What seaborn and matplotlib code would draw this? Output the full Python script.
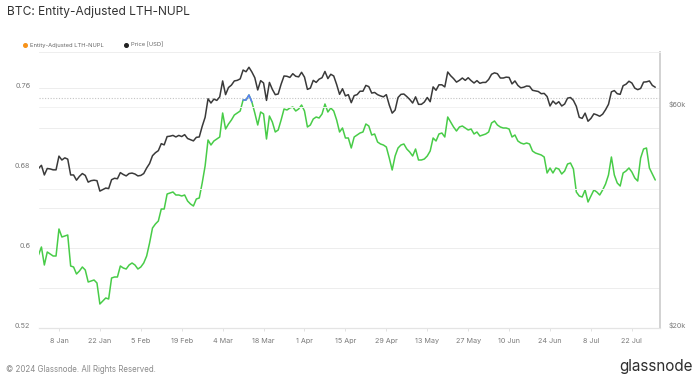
import numpy as np
import pandas as pd
import matplotlib
matplotlib.use('Agg')
import matplotlib.pyplot as plt
import matplotlib.dates as mdates
import matplotlib.transforms as mtransforms
from matplotlib.lines import Line2D
import seaborn as sns

# daily values, 1 Jan 2024 -> 30 Jul 2024
start_date = '2024-01-01'

price_usd = [
	44200, 44900, 42800, 44200, 44100, 43900, 43900, 47000, 46100, 46600,
	46300, 42800, 42800, 41700, 42500, 43100, 42700, 41300, 41600, 41700,
	41600, 39500, 39800, 40100, 40000, 41800, 42100, 42000, 43300, 42900,
	42600, 43100, 43200, 43000, 42600, 42700, 43100, 44300, 45300, 47100,
	47800, 48300, 50000, 49700, 51800, 51900, 52100, 51700, 52100, 51800,
	52300, 51300, 51000, 50700, 51600, 51700, 54500, 57000, 62500, 61200,
	62400, 62000, 63100, 68300, 63800, 66100, 66900, 68300, 68500, 69000,
	72100, 71500, 73100, 71400, 69400, 65300, 68400, 67600, 62000, 67800,
	65500, 63800, 64000, 67200, 70000, 69900, 69500, 70800, 69900, 69700,
	71300, 69600, 65500, 65900, 68500, 67800, 68900, 69400, 71600, 69100,
	70600, 70000, 67100, 63900, 65700, 63400, 63800, 61300, 63500, 63800,
	64900, 64900, 66800, 66400, 64300, 64500, 63800, 63400, 63100, 63800,
	60600, 58200, 59100, 62900, 63900, 64000, 63200, 62300, 61200, 63100,
	60800, 60800, 61500, 62900, 61600, 66300, 65200, 67000, 67000, 66300,
	71400, 70100, 69100, 67900, 68500, 69300, 68500, 69400, 68400, 67600,
	68400, 67500, 67800, 67800, 68800, 70600, 71100, 70800, 69300, 69300,
	69600, 69500, 67300, 68300, 66800, 66000, 66200, 66600, 66500, 65200,
	65000, 64800, 64100, 64200, 63200, 60300, 61800, 60900, 61600, 60300,
	60900, 62700, 62900, 62000, 60200, 57000, 56700, 58200, 55900, 56700,
	58000, 57700, 57300, 57900, 59200, 60800, 64700, 65100, 64100, 63900,
	66700, 67200, 68200, 67600, 65900, 65400, 65800, 67900, 68000, 68300,
	66800, 66200,
]

lth_nupl = [
	0.593, 0.601, 0.583, 0.596, 0.594, 0.592, 0.592, 0.619, 0.611, 0.612,
	0.613, 0.582, 0.581, 0.574, 0.577, 0.581, 0.578, 0.566, 0.567, 0.568,
	0.565, 0.544, 0.547, 0.550, 0.549, 0.570, 0.571, 0.571, 0.582, 0.580,
	0.579, 0.583, 0.585, 0.583, 0.579, 0.581, 0.585, 0.592, 0.605, 0.620,
	0.624, 0.627, 0.639, 0.639, 0.654, 0.655, 0.656, 0.653, 0.653, 0.652,
	0.653, 0.647, 0.644, 0.642, 0.649, 0.650, 0.665, 0.682, 0.708, 0.703,
	0.707, 0.709, 0.711, 0.735, 0.719, 0.724, 0.728, 0.733, 0.735, 0.737,
	0.748, 0.748, 0.753, 0.746, 0.735, 0.723, 0.736, 0.734, 0.709, 0.732,
	0.726, 0.716, 0.718, 0.728, 0.739, 0.738, 0.740, 0.741, 0.737, 0.739,
	0.743, 0.737, 0.721, 0.723, 0.729, 0.731, 0.730, 0.734, 0.744, 0.736,
	0.740, 0.737, 0.728, 0.716, 0.720, 0.710, 0.710, 0.700, 0.711, 0.713,
	0.715, 0.716, 0.724, 0.722, 0.713, 0.714, 0.706, 0.704, 0.703, 0.701,
	0.690, 0.678, 0.692, 0.700, 0.703, 0.704, 0.699, 0.696, 0.692, 0.699,
	0.688, 0.688, 0.689, 0.692, 0.697, 0.710, 0.707, 0.714, 0.715, 0.711,
	0.731, 0.726, 0.721, 0.717, 0.721, 0.722, 0.720, 0.718, 0.719, 0.714,
	0.716, 0.712, 0.713, 0.714, 0.716, 0.725, 0.727, 0.723, 0.721, 0.720,
	0.720, 0.719, 0.711, 0.713, 0.707, 0.705, 0.704, 0.705, 0.704, 0.697,
	0.695, 0.694, 0.693, 0.691, 0.675, 0.680, 0.675, 0.680, 0.679, 0.674,
	0.677, 0.684, 0.685, 0.679, 0.656, 0.652, 0.651, 0.658, 0.646, 0.652,
	0.658, 0.656, 0.653, 0.658, 0.664, 0.673, 0.691, 0.673, 0.665, 0.662,
	0.675, 0.677, 0.680, 0.676, 0.670, 0.667, 0.690, 0.699, 0.700, 0.680,
	0.674, 0.668,
]

nupl_level = 0.75          # dotted line, line turns blue above it
left_ticks = [0.52, 0.6, 0.68, 0.76]
left_minor = [0.56, 0.64, 0.72]
right_ticks = [20000, 40000, 60000]
right_labels = ['$20k', '', '$60k']
date_ticks = pd.date_range('2024-01-08', '2024-07-22', freq='14D')

dates = pd.date_range(start_date, periods=len(price_usd), freq='D')
df = pd.DataFrame({'date': dates, 'price': price_usd, 'nupl': lth_nupl})
df['nupl_high'] = df['nupl'].where(df['nupl'] >= 0.745)

sns.set_theme(style='white')
plt.rcParams['font.family'] = ['Inter', 'DejaVu Sans']

W, H = 700, 378
fig = plt.figure(figsize=(7, 3.78), dpi=100)
# pixel box of the plot area
x0, x1, y_top, y_bot = 38.5, 660, 52, 328
ax = fig.add_axes([x0 / W, 1 - y_bot / H, (x1 - x0) / W, (y_bot - y_top) / H])
ax2 = ax.twinx()

green = '#48cc48'
blue = '#5b7cf5'
dark = '#3a3a3a'

sns.lineplot(data=df, x='date', y='nupl', ax=ax, color=green, linewidth=1.1)
sns.lineplot(data=df, x='date', y='nupl_high', ax=ax, color=blue, linewidth=1.1)
ax.axhline(nupl_level, color='#c4c4c4', linewidth=0.8, linestyle=(0, (1, 1.5)), zorder=0)

sns.lineplot(data=df, x='date', y='price', ax=ax2, color=dark, linewidth=1.1)

# left axis: 0.001 per pixel
ax.set_ylim(0.52, 0.52 + (y_bot - y_top) * 0.001)
# right axis: log price, $20k at bottom, $60k 221 px higher
ax2.set_yscale('log')
ax2.set_ylim(20000, 20000 * 3 ** ((y_bot - y_top) / 221))

day_span = (x1 - x0) / 2.923
ax.set_xlim(pd.Timestamp(start_date), pd.Timestamp(start_date) + pd.Timedelta(days=day_span))

ax.set_yticks(left_ticks)
ax.set_yticklabels(['0.52', '0.6', '0.68', '0.76'])
ax.set_yticks(left_minor, minor=True)
ax2.set_yticks(right_ticks)
ax2.set_yticklabels(right_labels)
ax2.yaxis.set_minor_locator(matplotlib.ticker.NullLocator())

ax.set_xticks(date_ticks)
ax.xaxis.set_major_formatter(mdates.DateFormatter('%-d %b'))

ax.grid(axis='y', which='both', color='#ededed', linewidth=0.7)
ax2.grid(axis='y', which='major', color='#f2f2f2', linewidth=0.7)
ax.grid(axis='x', visible=False)
ax.set_axisbelow(True)

for a in (ax, ax2):
	a.set_xlabel('')
	a.set_ylabel('')
	a.spines['left'].set_visible(False)
	a.spines['top'].set_color('#eeeeee')
	a.spines['top'].set_linewidth(0.7)
	a.spines['bottom'].set_color('#e4e4e4')
	a.spines['bottom'].set_linewidth(0.8)
	a.spines['right'].set_visible(False)
ax2.spines['right'].set_visible(True)
ax2.spines['right'].set_color('#cfcfcf')
ax2.spines['right'].set_linewidth(1.3)

ax.tick_params(axis='x', length=2.5, width=0.6, color='#dddddd', labelsize=5.2,
	labelcolor='#7a7a7a', pad=4.5, bottom=True)
ax.tick_params(axis='y', which='both', length=0, labelsize=5.2, labelcolor='#7a7a7a', pad=5.8)
ax2.tick_params(axis='y', which='both', length=0, labelsize=5.2, labelcolor='#7a7a7a', pad=6.5)

# labels sit a little above their gridline
offset = mtransforms.ScaledTranslation(0, 3 / 100, fig.dpi_scale_trans)
for a in (ax, ax2):
	for t in a.get_yticklabels():
		t.set_transform(t.get_transform() + offset)

# title and legend
fig.text(7 / W, 1 - 12 / H, 'BTC: Entity-Adjusted LTH-NUPL', fontsize=8.6, color='#333333',
	va='center', ha='left')
for xd, label, col in [(25, 'Entity-Adjusted LTH-NUPL', '#f7931a'), (126, 'Price [USD]', '#222222')]:
	fig.add_artist(Line2D([xd / W], [1 - 45 / H], marker='o', markersize=2.6, color=col,
		transform=fig.transFigure, linestyle='none'))
	fig.text((xd + 5) / W, 1 - 45 / H, label, fontsize=4.2, color='#666666', va='center', ha='left')

# footer
fig.text(6 / W, 1 - 369 / H, '\u00a9 2024 Glassnode. All Rights Reserved.', fontsize=5.7,
	color='#8a8a8a', va='center', ha='left')
fig.text(693 / W, 1 - 366 / H, 'glassnode', fontsize=11, color='#2e2e2e', va='center', ha='right')

fig.savefig('out.png', dpi=100)
